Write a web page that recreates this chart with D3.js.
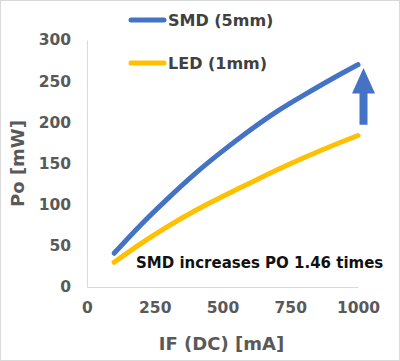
<!DOCTYPE html>
<html>
<head>
<meta charset="utf-8">
<script src="https://cdn.jsdelivr.net/npm/d3@7"></script>
<style>
  body { margin: 0; background: #fff; }
  text { font-family: "DejaVu Sans", sans-serif; font-weight: bold; }
</style>
</head>
<body>
<svg width="400" height="361"></svg>
<script>
// Data
const currents = [100, 200, 300, 400, 500, 600, 700, 800, 900, 1000];
const smd = [41, 76, 108, 138, 165, 190, 213, 233, 252, 270];
const led = [30, 53, 74, 93, 110, 126, 142, 157, 171, 184];
const xTicks = [0, 250, 500, 750, 1000];
const yTicks = [0, 50, 100, 150, 200, 250, 300];
const seriesNames = ["SMD (5mm)", "LED (1mm)"];
const seriesColors = ["#4472C4", "#FFC000"];

const svg = d3.select("svg"),
  width = 400,
  height = 361;

const margin = { left: 87, right: 42, top: 40, bottom: 74 };

// frame
svg.append("rect")
  .attr("x", 0.5).attr("y", 0.5)
  .attr("width", width - 1).attr("height", height - 1)
  .attr("fill", "#fff").attr("stroke", "#d9d9d9");

const x = d3.scaleLinear().domain([0, 1000]).range([margin.left, width - margin.right]);
const y = d3.scaleLinear().domain([0, 300]).range([height - margin.bottom, margin.top]);

// axes
const xAxis = svg.append("g")
  .attr("transform", `translate(0,${y(0)})`)
  .call(d3.axisBottom(x).tickValues(xTicks).tickFormat(d3.format("d")).tickSize(0).tickPadding(15));
const yAxis = svg.append("g")
  .attr("transform", `translate(${x(0)},0)`)
  .call(d3.axisLeft(y).tickValues(yTicks).tickSize(0).tickPadding(16));

[xAxis, yAxis].forEach((a) => {
  a.select(".domain").attr("stroke", "#d9d9d9").attr("stroke-width", 1);
  a.selectAll("text").attr("fill", "#595959").style("font-size", "15.5px");
});

// axis titles
svg.append("text")
  .attr("x", (x(0) + x(1000)) / 2 - 1)
  .attr("y", 350)
  .attr("text-anchor", "middle")
  .attr("fill", "#595959")
  .style("font-size", "18px")
  .text("IF (DC) [mA]");

svg.append("text")
  .attr("transform", `translate(24,${(y(0) + y(300)) / 2}) rotate(-90)`)
  .attr("text-anchor", "middle")
  .attr("fill", "#595959")
  .style("font-size", "18px")
  .text("Po [mW]");

// lines
const line = d3.line()
  .x((d, i) => x(currents[i]))
  .y((d) => y(d))
  .curve(d3.curveNatural);

[smd, led].forEach((s, k) => {
  svg.append("path")
    .datum(s)
    .attr("d", line)
    .attr("fill", "none")
    .attr("stroke", seriesColors[k])
    .attr("stroke-width", 5)
    .attr("stroke-linecap", "round");
});

// legend
const legendY = [20, 63];
seriesNames.forEach((name, k) => {
  svg.append("line")
    .attr("x1", 131).attr("x2", 164)
    .attr("y1", legendY[k]).attr("y2", legendY[k])
    .attr("stroke", seriesColors[k])
    .attr("stroke-width", 5)
    .attr("stroke-linecap", "round");
  svg.append("text")
    .attr("x", 168)
    .attr("y", legendY[k] + 6)
    .attr("fill", "#404040")
    .style("font-size", "16px")
    .text(name);
});

// arrow showing the gain at 1000 mA
const ax = x(1000) + 5.5;
svg.append("path")
  .attr("d", `M${ax - 4},${y(197)} L${ax - 4},${y(235)} L${ax - 11.5},${y(235)} L${ax},${y(266)} L${ax + 11.5},${y(235)} L${ax + 4},${y(235)} L${ax + 4},${y(197)} Z`)
  .attr("fill", "#4472C4");

// annotation
svg.append("text")
  .attr("x", 136)
  .attr("y", 268)
  .attr("fill", "#111")
  .style("font-size", "15px")
  .text("SMD increases PO 1.46 times");
</script>
</body>
</html>
